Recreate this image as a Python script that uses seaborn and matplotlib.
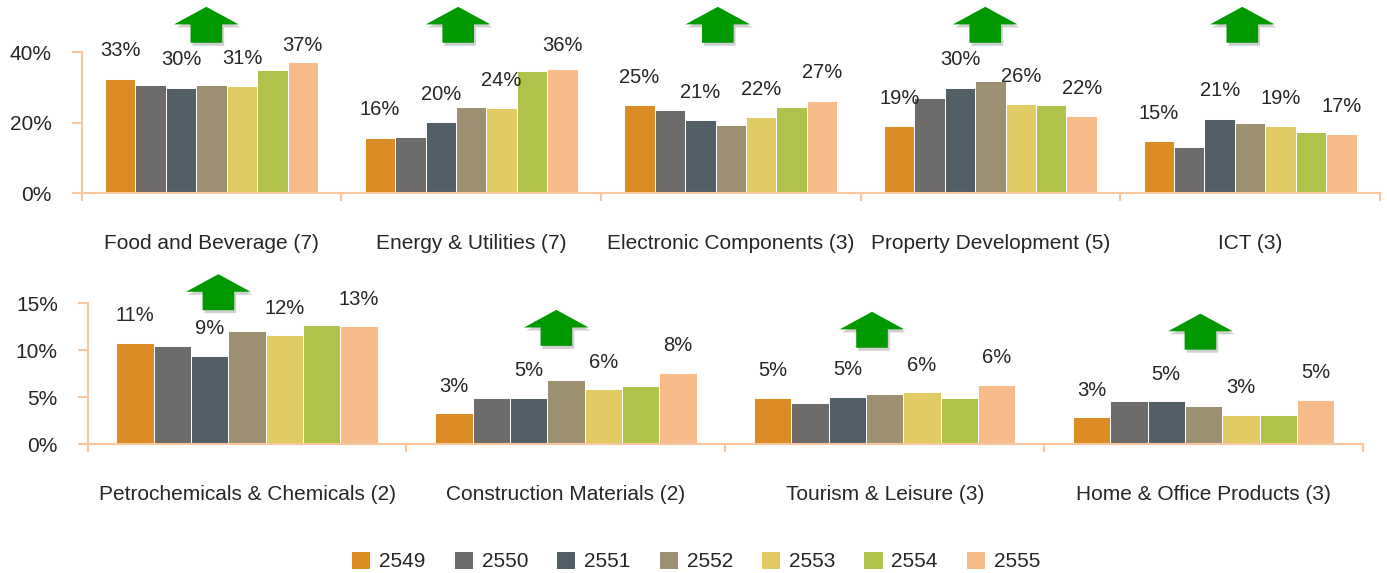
import numpy as np
import pandas as pd
import matplotlib
matplotlib.use("Agg")
import matplotlib.pyplot as plt
import seaborn as sns
from matplotlib.patches import Polygon, Patch
from matplotlib.transforms import ScaledTranslation


# Years (Thai Buddhist calendar) and bar colours
years = ["2549", "2550", "2551", "2552", "2553", "2554", "2555"]
colors = ["#DB8C24", "#6E6B6B", "#535F66", "#9C9070", "#E2CB62", "#B0C24A", "#F8BC8A"]

# Top row sectors
top_sectors = ["Food and Beverage (7)", "Energy & Utilities (7)", "Electronic Components (3)",
               "Property Development (5)", "ICT (3)"]
food = [32.5, 30.8, 30.0, 30.8, 30.4, 35.1, 37.2]
energy = [15.7, 16.1, 20.2, 24.5, 24.1, 34.7, 35.2]
electronic = [25.0, 23.6, 20.7, 19.4, 21.6, 24.5, 26.2]
property_dev = [19.0, 27.0, 30.0, 31.8, 25.3, 25.0, 21.9]
ict = [14.7, 13.1, 21.1, 19.9, 19.0, 17.3, 16.8]
top_labels = [["33%", "30%", "31%", "37%"], ["16%", "20%", "24%", "36%"],
              ["25%", "21%", "22%", "27%"], ["19%", "30%", "26%", "22%"],
              ["15%", "21%", "19%", "17%"]]

# Bottom row sectors
bottom_sectors = ["Petrochemicals & Chemicals (2)", "Construction Materials (2)",
                  "Tourism & Leisure (3)", "Home & Office Products (3)"]
petro = [10.8, 10.5, 9.4, 12.1, 11.6, 12.7, 12.55]
construction = [3.33, 4.93, 4.93, 6.8, 5.85, 6.17, 7.6]
tourism = [4.93, 4.43, 5.07, 5.39, 5.53, 4.93, 6.35]
home = [2.87, 4.57, 4.57, 4.11, 3.16, 3.16, 4.75]
bottom_labels = [["11%", "9%", "12%", "13%"], ["3%", "5%", "6%", "8%"],
                 ["5%", "5%", "6%", "6%"], ["3%", "5%", "3%", "5%"]]

top_values = [food, energy, electronic, property_dev, ict]
bottom_values = [petro, construction, tourism, home]


def to_long(sectors, values):
    rows = []
    for s, vals in zip(sectors, values):
        for y, v in zip(years, vals):
            rows.append({"sector": s, "year": y, "value": v})
    return pd.DataFrame(rows)


sns.set_style("white")
plt.rcParams["font.family"] = ["Liberation Sans", "DejaVu Sans"]

text_c = "#262626"
axis_c = "#F8C7A0"
green = "#009A00"

fig = plt.figure(figsize=(13.87, 5.73), dpi=100)
ax_top = fig.add_axes([0.0589, 0.6627, 0.936, 0.3322])
ax_bot = fig.add_axes([0.0632, 0.2246, 0.9195, 0.3084])

# arrow shape in inches, tip at origin
arrow_shape = np.array([[0, 0], [0.323, -0.176], [0.158, -0.176], [0.158, -0.36],
                        [-0.158, -0.36], [-0.158, -0.176], [-0.323, -0.176]])


def draw_arrow(ax, x, y_tip):
    tr = fig.dpi_scale_trans + ScaledTranslation(x, y_tip, ax.transData)
    shadow = Polygon(arrow_shape + [0.02, -0.03], closed=True, transform=tr,
                     fc="#7a7a7a", ec="none", alpha=0.35, clip_on=False, zorder=4)
    arrow = Polygon(arrow_shape, closed=True, transform=tr, fc=green, ec="none",
                    clip_on=False, zorder=5)
    ax.add_patch(shadow)
    ax.add_patch(arrow)


def draw_panel(ax, sectors, values, labels, ymax, yticks, label_gap, label_cap,
               arrow_x, arrow_y):
    df = to_long(sectors, values)
    sns.barplot(data=df, x="sector", y="value", hue="year", hue_order=years,
                palette=colors, saturation=1, width=0.82, ax=ax, legend=False,
                edgecolor="white", linewidth=0.7)
    n = len(sectors)
    ax.set_xlim(-0.5, n - 0.5)
    ax.set_ylim(0, ymax)
    ax.set_xlabel("")
    ax.set_ylabel("")

    for side in ["top", "right"]:
        ax.spines[side].set_visible(False)
    for side in ["left", "bottom"]:
        ax.spines[side].set_color(axis_c)
        ax.spines[side].set_linewidth(1.5)
    ax.spines["left"].set_bounds(0, yticks[-1])

    ax.set_yticks(yticks)
    ax.set_yticklabels([f"{t}%" for t in yticks])
    ax.tick_params(axis="y", left=True, direction="out", length=7.5, width=1.5,
                   color=axis_c, pad=14, labelsize=15, labelcolor=text_c)
    ax.set_xticks(np.arange(n + 1) - 0.5)
    ax.tick_params(axis="x", bottom=True, direction="out", length=6, width=1.5,
                   color=axis_c, labelbottom=False)

    # category names under the axis
    for i, s in enumerate(sectors):
        ax.annotate(s, xy=(i, 0), xytext=(0, -36.5), textcoords="offset points",
                    ha="center", va="center", fontsize=15, color=text_c)

    # value labels on every second year
    for k, cont in enumerate(ax.containers):
        if k % 2:
            continue
        for i, bar in enumerate(cont):
            v = bar.get_height()
            y = min(v + label_gap, label_cap)
            ax.text(bar.get_x() + bar.get_width() / 2, y, labels[i][k // 2],
                    ha="center", va="center", fontsize=14.5, color=text_c)

    for i in range(n):
        draw_arrow(ax, i + arrow_x[i], arrow_y[i])


draw_panel(ax_top, top_sectors, top_values, top_labels, 54, [0, 20, 40],
           7.95, 41.8, [-0.02, -0.05, -0.05, -0.02, -0.03], [52.9] * 5)
draw_panel(ax_bot, bottom_sectors, bottom_values, bottom_labels, 18.8, [0, 5, 10, 15],
           2.87, 99, [-0.09, -0.03, -0.04, -0.01], [18.1, 14.3, 14.1, 13.9])

handles = [Patch(facecolor=c, edgecolor="none") for c in colors]
fig.legend(handles, years, loc="center", bbox_to_anchor=(0.502, 0.02), ncol=7,
           frameon=False, fontsize=15, handlelength=0.87, handleheight=0.87,
           handletextpad=0.43, columnspacing=1.39, labelcolor=text_c)

fig.savefig("out.png", dpi=100)
